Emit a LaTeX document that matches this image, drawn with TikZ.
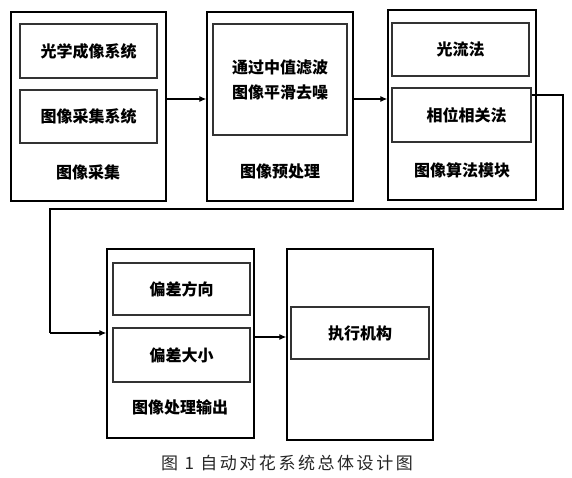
\documentclass[tikz,border=0pt]{standalone}
\usepackage{fontspec}
\setmainfont{Noto Sans CJK SC}
\usetikzlibrary{arrows.meta}
\tikzset{
  outer/.style={draw=black, line width=1.3pt, minimum width=#1, inner sep=0pt},
  innerbox/.style={draw=black!80, line width=1.8pt, inner sep=0pt, font=\fontsize{16}{25}\selectfont\bfseries, align=center},
  lbl/.style={font=\fontsize{16}{18}\selectfont\bfseries, inner sep=0pt},
  conn/.style={line width=1.2pt, draw=black},
  arr/.style={conn, -{Latex[length=7pt,width=6pt]}},
}
\begin{document}
\begin{tikzpicture}[x=1pt,y=-1pt]
\useasboundingbox (0,0) rectangle (572,478);
% box 1
\node[outer=155pt, minimum height=189pt] (b1) at (88.5,106.5) {};
\node[innerbox, minimum width=137pt, minimum height=54pt] (b1a) at (88.5,51) {光学成像系统};
\node[innerbox, minimum width=137pt, minimum height=53pt] (b1b) at (88.5,116.5) {图像采集系统};
\node[lbl] (l1) at (88,172) {图像采集};
% box 2
\node[outer=146pt, minimum height=189pt] (b2) at (280,106.5) {};
\node[innerbox, minimum width=134pt, minimum height=111pt] (b2a) at (280,79.5) {通过中值滤波\\图像平滑去噪};
\node[lbl] (l2) at (280,171) {图像预处理};
% box 3
\node[outer=148pt, minimum height=190pt] (b3) at (462,105) {};
\node[innerbox, minimum width=137pt, minimum height=53pt] (b3a) at (460.5,49.5) {光流法};
\node[innerbox, minimum width=139pt, minimum height=54pt] (b3b) at (461.5,115) {\hspace*{10pt}相位相关法};
\node[lbl] (l3) at (462,170) {图像算法模块};
% box 4
\node[outer=147pt, minimum height=189pt] (b4) at (180.5,343.5) {};
\node[innerbox, minimum width=137pt, minimum height=52pt] (b4a) at (181.5,289) {偏差方向};
\node[innerbox, minimum width=137pt, minimum height=54pt] (b4b) at (181.5,355) {偏差大小};
\node[lbl] (l4) at (180,407) {图像处理输出};
% box 5
\node[outer=146pt, minimum height=191pt] (b5) at (360,344.5) {};
\node[innerbox, minimum width=138pt, minimum height=52pt] (b5a) at (360,333) {执行机构};
% caption
\node[font=\fontsize{17}{20}\selectfont\addfontfeature{LetterSpace=15}, text=black!85, inner sep=0pt] (cap) at (287,463) {图 1 自动对花系统总体设计图};
% connectors
\draw[arr] ([yshift=7.5pt]b1.east) -- ([yshift=7.5pt]b2.west);
\draw[arr] ([yshift=7.5pt]b2.east) -- ([yshift=6pt]b3.west);
\coordinate (t1) at (563,95);
\coordinate (t2) at (563,209);
\coordinate (t3) at (50,209);
\coordinate (t4) at (50,333);
\draw[conn] ([yshift=20pt]b3b.east) -- (t1) -- (t2) -- (t3) -- (t4);
\draw[arr] (t4) -- (b4.west |- t4);
\draw[arr] ([yshift=6.5pt]b4.east) -- ([yshift=7.5pt]b5.west);
\end{tikzpicture}
\end{document}
